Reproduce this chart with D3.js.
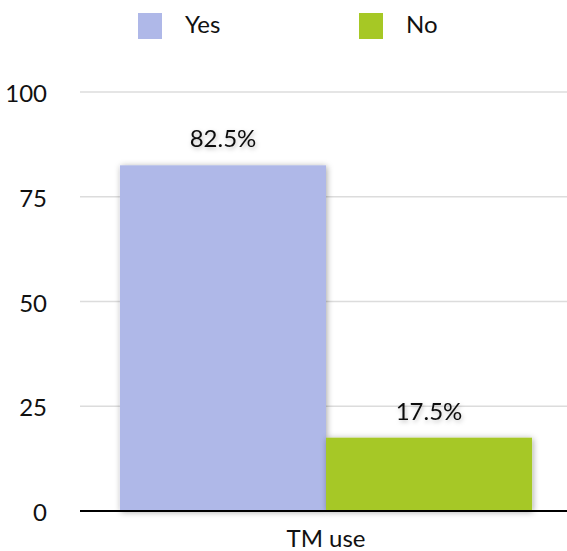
<!DOCTYPE html>
<html>
<head>
<meta charset="utf-8">
<script src="https://cdn.jsdelivr.net/npm/d3@7"></script>
<style>
  body { margin: 0; background: #fff; }
  svg text { font-family: 'Lato', 'Open Sans', sans-serif; fill: #111; }
</style>
</head>
<body>
<script>
'use strict';

var categories = ['TM use']
var series = ['Yes', 'No']
var values = [82.5, 17.5]
var labels = ['82.5%', '17.5%']
var yTicks = [0, 25, 50, 75, 100]
var colors = ['#afb8e8', '#a6c825']

var W = 567, H = 551
var m = { top: 92, right: 0, bottom: 40, left: 80 }

var svg = d3.select('body').append('svg')
  .attr('width', W)
  .attr('height', H)

var defs = svg.append('defs')
var f = defs.append('filter').attr('id', 'shadow')
  .attr('x', '-10%').attr('y', '-10%').attr('width', '130%').attr('height', '130%')
f.append('feDropShadow')
  .attr('dx', 1).attr('dy', 1).attr('stdDeviation', 3)
  .attr('flood-color', '#000').attr('flood-opacity', 0.35)
var ft = defs.append('filter').attr('id', 'tshadow')
ft.append('feDropShadow')
  .attr('dx', 1).attr('dy', 2).attr('stdDeviation', 2)
  .attr('flood-color', '#000').attr('flood-opacity', 0.25)

var y = d3.scaleLinear().domain([0, 100]).range([H - m.bottom, m.top])
var x0 = d3.scaleBand().domain(categories)
  .range([m.left, 572]).paddingOuter(0.097).paddingInner(0)
var x1 = d3.scaleBand().domain(series).range([0, x0.bandwidth()])

// grid
svg.append('g').selectAll('line')
  .data(yTicks.filter(function(d) { return d > 0 }))
  .join('line')
  .attr('x1', m.left).attr('x2', W)
  .attr('y1', function(d) { return y(d) }).attr('y2', function(d) { return y(d) })
  .attr('stroke', '#dcdcdc').attr('stroke-width', 1.5)

// y tick labels
svg.append('g').selectAll('text')
  .data(yTicks)
  .join('text')
  .attr('x', 47)
  .attr('y', function(d) { return y(d) })
  .attr('dy', '0.42em')
  .attr('text-anchor', 'end')
  .attr('font-size', 24)
  .text(function(d) { return d })

// bars
var g = svg.append('g').attr('transform', 'translate(' + x0(categories[0]) + ',0)')
g.selectAll('rect')
  .data(values)
  .join('rect')
  .attr('x', function(d, i) { return x1(series[i]) })
  .attr('width', x1.bandwidth())
  .attr('y', function(d) { return y(d) })
  .attr('height', function(d) { return y(0) - y(d) })
  .attr('fill', function(d, i) { return colors[i] })
  .attr('filter', 'url(#shadow)')

g.selectAll('text')
  .data(values)
  .join('text')
  .attr('x', function(d, i) { return x1(series[i]) + x1.bandwidth() / 2 })
  .attr('y', function(d) { return y(d) - 18 })
  .attr('text-anchor', 'middle')
  .attr('font-size', 24)
  .attr('filter', 'url(#tshadow)')
  .text(function(d, i) { return labels[i] })

// x axis
svg.append('line')
  .attr('x1', m.left).attr('x2', W)
  .attr('y1', y(0)).attr('y2', y(0))
  .attr('stroke', '#000').attr('stroke-width', 2)

svg.append('text')
  .attr('x', x0(categories[0]) + x0.bandwidth() / 2)
  .attr('y', 547)
  .attr('text-anchor', 'middle')
  .attr('font-size', 24)
  .text(categories[0])

// legend
var leg = svg.append('g').selectAll('g')
  .data(series)
  .join('g')
  .attr('transform', function(d, i) { return 'translate(' + (138 + i * 221) + ',13)' })
leg.append('rect')
  .attr('width', 24).attr('height', 26)
  .attr('fill', function(d, i) { return colors[i] })
leg.append('text')
  .attr('x', 47).attr('y', 20)
  .attr('font-size', 24)
  .text(function(d) { return d })
</script>
</body>
</html>
